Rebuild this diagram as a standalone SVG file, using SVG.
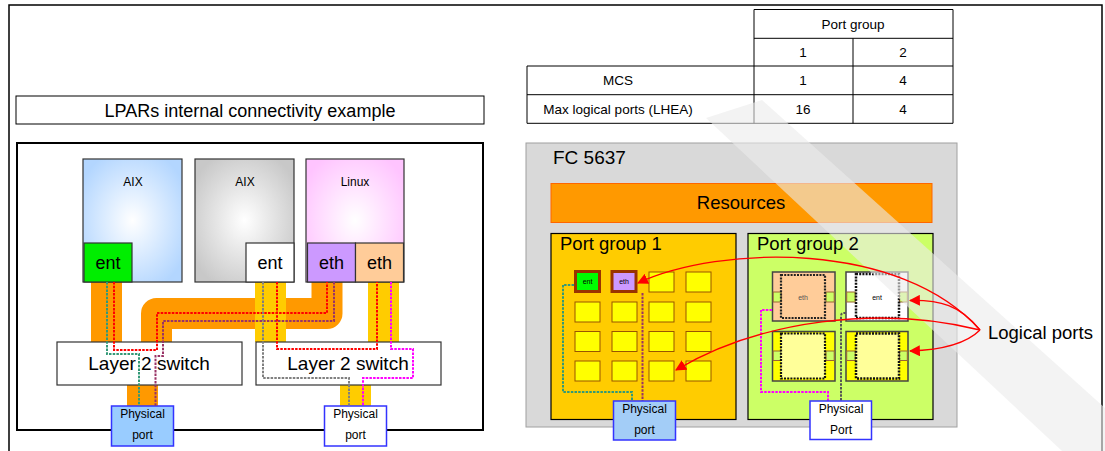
<svg xmlns="http://www.w3.org/2000/svg" width="1105" height="451" viewBox="0 0 1105 451">
<defs>
<style>
text{font-family:"Liberation Sans",Arial,sans-serif;fill:#000}
.box{stroke:#333;stroke-width:1.2}
.cell{fill:#ffff00;stroke:#995500;stroke-width:1}
.dot{fill:none;stroke-width:2;stroke-dasharray:2.5 1.2}
.tbl{stroke:#000;stroke-width:1}
.arr{fill:none;stroke:#ff0000;stroke-width:1.3;marker-end:url(#ah)}
.blk{stroke:#444;stroke-width:1.5}
.inner{fill:none;stroke:#222;stroke-width:2.2;stroke-dasharray:2 1.2}
.strip{fill:#ccff66;stroke:#996633;stroke-width:1}
.pp{stroke:#3333ff;stroke-width:1.5}
</style>
<radialGradient id="gBlue" cx="0.5" cy="0.5" r="0.6"><stop offset="0" stop-color="#ffffff"/><stop offset="1" stop-color="#b3d6ff"/></radialGradient>
<radialGradient id="gGray" cx="0.5" cy="0.5" r="0.6"><stop offset="0" stop-color="#ffffff"/><stop offset="1" stop-color="#c8c8c8"/></radialGradient>
<radialGradient id="gPink" cx="0.5" cy="0.5" r="0.6"><stop offset="0" stop-color="#ffffff"/><stop offset="1" stop-color="#ffc4ff"/></radialGradient>
<marker id="ah" viewBox="0 0 10 10" refX="9" refY="5" markerWidth="11" markerHeight="11" markerUnits="userSpaceOnUse" orient="auto"><path d="M0,0 L10,5 L0,10 Z" fill="#ff0000"/></marker>
</defs>
<rect x="0" y="0" width="1105" height="451" fill="#ffffff"/>
<rect x="9" y="5" width="1093" height="460" fill="none" stroke="#000" stroke-width="1.5"/>

<g id="title">
<rect x="16" y="96" width="468" height="28" fill="#fff" stroke="#000" stroke-width="1"/>
<text x="250" y="116.5" font-size="18" text-anchor="middle">LPARs internal connectivity example</text>
</g>

<g id="lpar-panel">
<rect x="17" y="143" width="466" height="287" fill="#fff" stroke="#000" stroke-width="2"/>
</g>

<g id="bands">
<rect x="91" y="282" width="31" height="60" fill="#ff9900"/>
<path d="M327,282 V313.5 H156.5 V342" fill="none" stroke="#ff9900" stroke-width="31" stroke-linejoin="round"/>
<rect x="127" y="385" width="31" height="21" fill="#ff9900"/>
<rect x="255" y="282" width="31" height="60" fill="#ffcc00"/>
<rect x="368" y="282" width="31" height="60" fill="#ffcc00"/>
<rect x="340" y="385" width="31" height="21" fill="#ffcc00"/>
</g>

<g id="aix1">
<rect x="83" y="159" width="99" height="123" fill="url(#gBlue)" class="box"/>
<text x="133" y="186" font-size="12" text-anchor="middle">AIX</text>
<rect x="84" y="243" width="48" height="39" fill="#00ee00" class="box"/>
<text x="108" y="268.5" font-size="18" text-anchor="middle">ent</text>
</g>
<g id="aix2">
<rect x="195" y="159" width="99" height="123" fill="url(#gGray)" class="box"/>
<text x="245" y="186" font-size="12" text-anchor="middle">AIX</text>
<rect x="246" y="243" width="48" height="39" fill="#fff" class="box"/>
<text x="270" y="268.5" font-size="18" text-anchor="middle">ent</text>
</g>
<g id="linux">
<rect x="306" y="159" width="98" height="123" fill="url(#gPink)" class="box"/>
<text x="355" y="186" font-size="12" text-anchor="middle">Linux</text>
<rect x="307.5" y="243" width="48" height="39" fill="#cc99ff" class="box"/>
<text x="331.5" y="268.5" font-size="18" text-anchor="middle">eth</text>
<rect x="355.5" y="243" width="48" height="39" fill="#ffcc99" class="box"/>
<text x="379.5" y="268.5" font-size="18" text-anchor="middle">eth</text>
</g>
<g id="switch1">
<rect x="57" y="342" width="185" height="43" fill="#fff" class="box"/>
<text x="149" y="370" font-size="19" text-anchor="middle">Layer 2 switch</text>
</g>
<g id="switch2">
<rect x="256" y="342" width="185" height="43" fill="#fff" class="box"/>
<text x="348" y="370" font-size="19" text-anchor="middle">Layer 2 switch</text>
</g>
<g id="pport1">
<rect x="111.5" y="406" width="62" height="40" fill="#99ccff" class="pp"/>
<text x="142.5" y="418" font-size="12" text-anchor="middle">Physical</text>
<text x="142.5" y="439" font-size="12" text-anchor="middle">port</text>
</g>
<g id="pport2">
<rect x="324.5" y="406" width="62" height="40" fill="#fff" class="pp"/>
<text x="355.5" y="418" font-size="12" text-anchor="middle">Physical</text>
<text x="355.5" y="439" font-size="12" text-anchor="middle">port</text>
</g>

<g id="table">
<line class="tbl" x1="754" y1="9.5" x2="953" y2="9.5"/>
<line class="tbl" x1="754" y1="38.3" x2="953" y2="38.3"/>
<line class="tbl" x1="527" y1="66" x2="953" y2="66"/>
<line class="tbl" x1="527" y1="94.7" x2="953" y2="94.7"/>
<line class="tbl" x1="527" y1="123.3" x2="953" y2="123.3"/>
<line class="tbl" x1="527" y1="66" x2="527" y2="123.3"/>
<line class="tbl" x1="754" y1="9.5" x2="754" y2="123.3"/>
<line class="tbl" x1="853" y1="38.3" x2="853" y2="123.3"/>
<line class="tbl" x1="953" y1="9.5" x2="953" y2="123.3"/>
<text x="853" y="28.5" font-size="13.5" text-anchor="middle">Port group</text>
<text x="803" y="57" font-size="13.5" text-anchor="middle">1</text>
<text x="903" y="57" font-size="13.5" text-anchor="middle">2</text>
<text x="618" y="85" font-size="13.5" text-anchor="middle">MCS</text>
<text x="803" y="85" font-size="13.5" text-anchor="middle">1</text>
<text x="903" y="85" font-size="13.5" text-anchor="middle">4</text>
<text x="618" y="113.5" font-size="13.5" text-anchor="middle">Max logical ports (LHEA)</text>
<text x="803" y="113.5" font-size="13.5" text-anchor="middle">16</text>
<text x="903" y="113.5" font-size="13.5" text-anchor="middle">4</text>
</g>

<g id="fc5637">
<rect x="526" y="143" width="431" height="284" fill="#d9d9d9" stroke="#a0a0a0" stroke-width="1"/>
<text x="553" y="164" font-size="19">FC 5637</text>
</g>
<g id="resources">
<rect x="551" y="183.5" width="381" height="39" fill="#ff9900" stroke="#ff6600" stroke-width="1"/>
<text x="741" y="209" font-size="18.5" text-anchor="middle">Resources</text>
</g>
<g id="portgroup1">
<rect x="551" y="233.5" width="185" height="186" fill="#ffcc00" stroke="#000" stroke-width="1.2"/>
<text x="560" y="250" font-size="18.5">Port group 1</text>
<rect x="575.5" y="271.5" width="24" height="20" fill="#00ff00" stroke="#993300" stroke-width="3"/>
<text x="587.5" y="284" font-size="7" text-anchor="middle">ent</text>
<rect x="612" y="271.5" width="24" height="20" fill="#cc99ff" stroke="#993300" stroke-width="3"/>
<text x="624" y="284" font-size="7" text-anchor="middle">eth</text>
<rect class="cell" x="649" y="272" width="25" height="20"/>
<rect class="cell" x="686" y="272" width="25" height="20"/>
<rect class="cell" x="575" y="302" width="25" height="20"/>
<rect class="cell" x="612" y="302" width="25" height="20"/>
<rect class="cell" x="649" y="302" width="25" height="20"/>
<rect class="cell" x="686" y="302" width="25" height="20"/>
<rect class="cell" x="575" y="331.5" width="25" height="20"/>
<rect class="cell" x="612" y="331.5" width="25" height="20"/>
<rect class="cell" x="649" y="331.5" width="25" height="20"/>
<rect class="cell" x="686" y="331.5" width="25" height="20"/>
<rect class="cell" x="575" y="361" width="25" height="20"/>
<rect class="cell" x="612" y="361" width="25" height="20"/>
<rect class="cell" x="649" y="361" width="25" height="20"/>
<rect class="cell" x="686" y="361" width="25" height="20"/>
</g>
<g id="portgroup2">
<rect x="748" y="233.5" width="185" height="186" fill="#ccff66" stroke="#000" stroke-width="1.2"/>
<rect class="blk" x="772.5" y="272" width="62.5" height="49" fill="#ffcc99"/>
<rect class="strip" x="773.2" y="292" width="8" height="10"/>
<rect class="strip" x="826" y="292" width="8.2" height="10"/>
<rect class="inner" x="781" y="275" width="44" height="43"/>
<text x="803" y="300" font-size="7" text-anchor="middle" style="fill:#555">eth</text>
<rect class="blk" x="846" y="272" width="62" height="49" fill="#ffffff"/>
<rect class="strip" x="846.7" y="292" width="8.5" height="10"/>
<rect class="strip" x="899.5" y="292" width="7.8" height="10"/>
<rect class="inner" x="856" y="274" width="43" height="44" style="stroke:#111;stroke-width:2.5"/>
<text x="877" y="300" font-size="7" text-anchor="middle">ent</text>
<rect class="blk" x="772.5" y="331.5" width="62.5" height="49.5" fill="#ffff00"/>
<rect class="strip" x="773.2" y="351" width="8" height="9.5"/>
<rect class="strip" x="826" y="351" width="8.2" height="9.5"/>
<rect x="781" y="333.5" width="44" height="45" fill="#ffff99" stroke="#111" stroke-width="2.2" stroke-dasharray="2 1.2"/>
<rect class="blk" x="846" y="331.5" width="62" height="49.5" fill="#ffff00"/>
<rect class="strip" x="846.7" y="351" width="8.5" height="9.5"/>
<rect class="strip" x="899.5" y="351" width="7.8" height="9.5"/>
<rect x="856" y="333.5" width="43" height="45" fill="#ffff99" stroke="#111" stroke-width="2.5" stroke-dasharray="2 1.2"/>
</g>

<g id="connectors">
<path class="dot" stroke="#339977" d="M107,282 V354 H139 V406"/>
<path class="dot" stroke="#ff0000" d="M114,282 V350 H157 V313 H327 V282"/>
<path class="dot" stroke="#993366" d="M334,282 V321 H163 V356 H155.5 V406"/>
<path class="dot" stroke="#808080" d="M263,282 V378 H349 V406"/>
<path class="dot" stroke="#ff0000" d="M277,282 V349 H377 V282"/>
<path class="dot" stroke="#ff00ff" d="M391,282 V349 H413 V378 H363 V406"/>
<path class="dot" stroke="#339977" d="M574,285 H563 V392 H632 V401"/>
<path class="dot" stroke="#993366" d="M642.5,293 V401"/>
<path class="dot" stroke="#ff00ff" d="M772,310 H761 V392 H828 V401"/>
<path class="dot" stroke="#555555" d="M846,313 H844 Q841,313 841,316 V401"/>
</g>

<g id="pport3">
<rect x="613.5" y="401" width="62" height="39" fill="#a3cdf7" class="pp"/>
<text x="644.5" y="413" font-size="12" text-anchor="middle">Physical</text>
<text x="644.5" y="434" font-size="12" text-anchor="middle">port</text>
</g>
<g id="pport4">
<rect x="810" y="401" width="61.5" height="38.5" fill="#fff" class="pp"/>
<text x="841" y="413" font-size="12" text-anchor="middle">Physical</text>
<text x="841" y="434" font-size="12" text-anchor="middle">Port</text>
</g>

<polygon id="watermark" points="706,118 762,100 1105,408 1105,451 1062,451" fill="#ebebeb" opacity="0.6"/>

<g id="portgroup2-label">
<text x="757" y="250" font-size="18.5">Port group 2</text>
</g>

<g id="arrows">
<path class="arr" d="M980,330 C900,240 720,245 638,283"/>
<path class="arr" d="M980,330 C960,305 940,300 910,300.5"/>
<path class="arr" d="M980,330 C880,305 760,320 676,370"/>
<path class="arr" d="M980,330 C965,345 940,350 910,351"/>
</g>
<g id="logical-ports">
<text x="988" y="339" font-size="18.5">Logical ports</text>
</g>
</svg>
